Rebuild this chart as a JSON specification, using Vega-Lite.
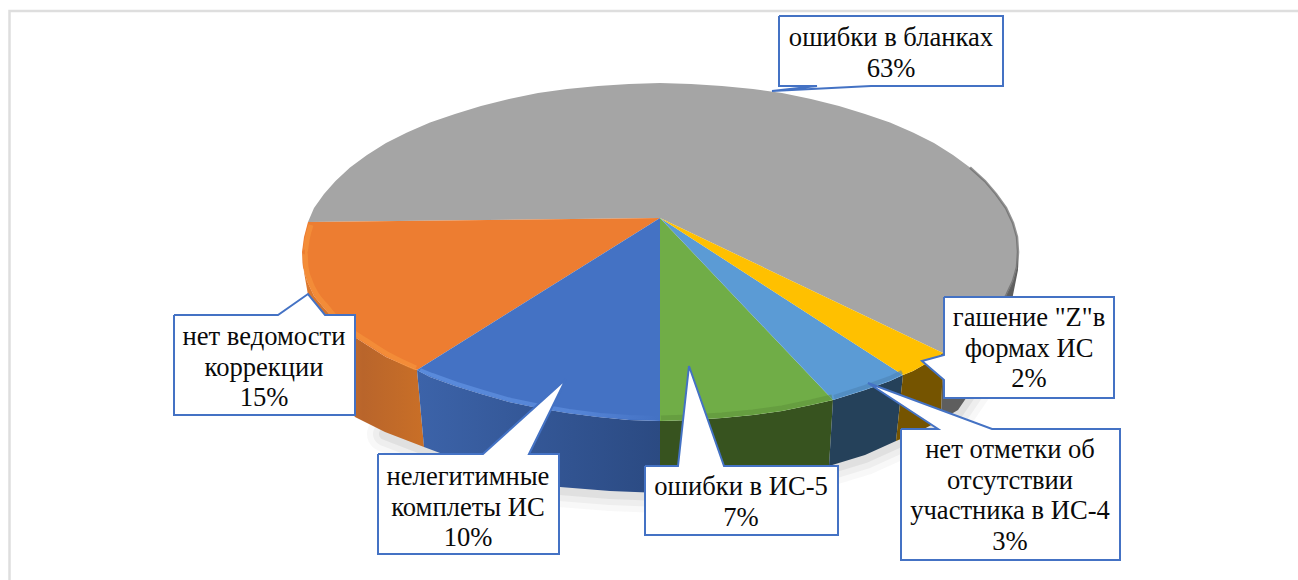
{"$schema":"https://vega.github.io/schema/vega-lite/v6.json","width":1298,"height":580,"padding":0,"autosize":"none","background":"#ffffff","config":{"view":{"stroke":null}},
"datasets":{
"frame":[{"x":9.5,"y":580},{"x":9.5,"y":11},{"x":1298,"y":11}],
"shadow":[{"x":385,"y":434},{"x":424,"y":449},{"x":480,"y":470},{"x":520,"y":481},{"x":560,"y":489},{"x":610,"y":493},{"x":660,"y":495},{"x":700,"y":494},{"x":760,"y":487},{"x":800,"y":478},{"x":829,"y":468},{"x":865,"y":457},{"x":896,"y":443},{"x":941,"y":422},{"x":958,"y":412},{"x":975,"y":387},{"x":995,"y":352}],
"shapes":[
{"part":"side_orange","x":302,"y":252},{"part":"side_orange","x":303,"y":267},{"part":"side_orange","x":307,"y":281},{"part":"side_orange","x":314,"y":296},{"part":"side_orange","x":324,"y":308},{"part":"side_orange","x":335.5,"y":321},{"part":"side_orange","x":350,"y":334},{"part":"side_orange","x":367,"y":345},{"part":"side_orange","x":386,"y":357},{"part":"side_orange","x":407,"y":366},{"part":"side_orange","x":417,"y":370},{"part":"side_orange","x":424,"y":447},{"part":"side_orange","x":385,"y":432},{"part":"side_orange","x":355,"y":417},{"part":"side_orange","x":335,"y":390},{"part":"side_orange","x":318,"y":340},{"part":"side_orange","x":308,"y":295},{"part":"side_orange","x":304,"y":272},
{"part":"side_blue","x":417,"y":370},{"part":"side_blue","x":430,"y":377},{"part":"side_blue","x":455,"y":386},{"part":"side_blue","x":481,"y":394},{"part":"side_blue","x":509,"y":402},{"part":"side_blue","x":538,"y":408},{"part":"side_blue","x":567,"y":413},{"part":"side_blue","x":598,"y":417},{"part":"side_blue","x":629,"y":420},{"part":"side_blue","x":660,"y":421},{"part":"side_blue","x":660,"y":493},{"part":"side_blue","x":610,"y":491},{"part":"side_blue","x":560,"y":487},{"part":"side_blue","x":520,"y":479},{"part":"side_blue","x":480,"y":468},{"part":"side_blue","x":424,"y":447},
{"part":"side_green","x":660,"y":421},{"part":"side_green","x":691,"y":420},{"part":"side_green","x":722,"y":418},{"part":"side_green","x":753,"y":415},{"part":"side_green","x":782,"y":411},{"part":"side_green","x":811,"y":405},{"part":"side_green","x":833,"y":400},{"part":"side_green","x":829,"y":466},{"part":"side_green","x":800,"y":476},{"part":"side_green","x":760,"y":485},{"part":"side_green","x":700,"y":492},{"part":"side_green","x":660,"y":493},
{"part":"side_lightblue","x":833,"y":400},{"part":"side_lightblue","x":865,"y":390},{"part":"side_lightblue","x":890,"y":381},{"part":"side_lightblue","x":903,"y":375},{"part":"side_lightblue","x":896,"y":441},{"part":"side_lightblue","x":865,"y":455},{"part":"side_lightblue","x":829,"y":466},
{"part":"side_yellow","x":903,"y":375},{"part":"side_yellow","x":913,"y":371},{"part":"side_yellow","x":934,"y":359},{"part":"side_yellow","x":943,"y":353},{"part":"side_yellow","x":941,"y":420},{"part":"side_yellow","x":920,"y":431},{"part":"side_yellow","x":896,"y":441},
{"part":"side_gray","x":943,"y":353},{"part":"side_gray","x":953,"y":346},{"part":"side_gray","x":970,"y":337},{"part":"side_gray","x":985,"y":323},{"part":"side_gray","x":996,"y":310},{"part":"side_gray","x":1006,"y":296},{"part":"side_gray","x":1013,"y":281},{"part":"side_gray","x":1017,"y":267},{"part":"side_gray","x":1018,"y":252},{"part":"side_gray","x":1018,"y":270},{"part":"side_gray","x":1010,"y":310},{"part":"side_gray","x":995,"y":350},{"part":"side_gray","x":975,"y":385},{"part":"side_gray","x":958,"y":410},{"part":"side_gray","x":941,"y":420},
{"part":"top_gray","x":660,"y":218},{"part":"top_gray","x":943,"y":353},{"part":"top_gray","x":953,"y":346},{"part":"top_gray","x":970,"y":336},{"part":"top_gray","x":985,"y":323},{"part":"top_gray","x":996,"y":310},{"part":"top_gray","x":1006,"y":296},{"part":"top_gray","x":1013,"y":281},{"part":"top_gray","x":1017,"y":267},{"part":"top_gray","x":1018,"y":252},{"part":"top_gray","x":1017,"y":237},{"part":"top_gray","x":1013,"y":223},{"part":"top_gray","x":1006,"y":208},{"part":"top_gray","x":996,"y":194},{"part":"top_gray","x":985,"y":181},{"part":"top_gray","x":970,"y":167.5},{"part":"top_gray","x":953,"y":155},{"part":"top_gray","x":934,"y":143},{"part":"top_gray","x":913,"y":132.5},{"part":"top_gray","x":890,"y":122.5},{"part":"top_gray","x":865,"y":114},{"part":"top_gray","x":839,"y":106},{"part":"top_gray","x":811,"y":99},{"part":"top_gray","x":782,"y":93},{"part":"top_gray","x":753,"y":89},{"part":"top_gray","x":722,"y":86},{"part":"top_gray","x":691,"y":84},{"part":"top_gray","x":660,"y":83},{"part":"top_gray","x":629,"y":84},{"part":"top_gray","x":598,"y":86},{"part":"top_gray","x":567,"y":89},{"part":"top_gray","x":538,"y":93},{"part":"top_gray","x":509,"y":99},{"part":"top_gray","x":481,"y":106},{"part":"top_gray","x":455,"y":114},{"part":"top_gray","x":430,"y":122.5},{"part":"top_gray","x":407,"y":132.5},{"part":"top_gray","x":386,"y":143},{"part":"top_gray","x":367,"y":155},{"part":"top_gray","x":350,"y":167.5},{"part":"top_gray","x":335.5,"y":181},{"part":"top_gray","x":324,"y":194},{"part":"top_gray","x":314,"y":208},{"part":"top_gray","x":308,"y":222},
{"part":"top_orange","x":660,"y":218},{"part":"top_orange","x":308,"y":222},{"part":"top_orange","x":304,"y":237},{"part":"top_orange","x":302,"y":252},{"part":"top_orange","x":303,"y":267},{"part":"top_orange","x":307,"y":281},{"part":"top_orange","x":314,"y":296},{"part":"top_orange","x":324,"y":308},{"part":"top_orange","x":335.5,"y":321},{"part":"top_orange","x":350,"y":334},{"part":"top_orange","x":367,"y":345},{"part":"top_orange","x":386,"y":357},{"part":"top_orange","x":407,"y":366},{"part":"top_orange","x":417,"y":370},
{"part":"top_blue","x":660,"y":218},{"part":"top_blue","x":417,"y":370},{"part":"top_blue","x":430,"y":377},{"part":"top_blue","x":455,"y":386},{"part":"top_blue","x":481,"y":394},{"part":"top_blue","x":509,"y":402},{"part":"top_blue","x":538,"y":408},{"part":"top_blue","x":567,"y":413},{"part":"top_blue","x":598,"y":417},{"part":"top_blue","x":629,"y":420},{"part":"top_blue","x":660,"y":421},
{"part":"top_green","x":660,"y":218},{"part":"top_green","x":660,"y":421},{"part":"top_green","x":691,"y":420},{"part":"top_green","x":722,"y":418},{"part":"top_green","x":753,"y":415},{"part":"top_green","x":782,"y":411},{"part":"top_green","x":811,"y":405},{"part":"top_green","x":833,"y":400},
{"part":"top_lightblue","x":660,"y":218},{"part":"top_lightblue","x":833,"y":400},{"part":"top_lightblue","x":865,"y":390},{"part":"top_lightblue","x":890,"y":381},{"part":"top_lightblue","x":903,"y":375},
{"part":"top_yellow","x":660,"y":218},{"part":"top_yellow","x":903,"y":375},{"part":"top_yellow","x":913,"y":371},{"part":"top_yellow","x":934,"y":359},{"part":"top_yellow","x":943,"y":353},
{"part":"box_1","x":779,"y":16},{"part":"box_1","x":1003,"y":16},{"part":"box_1","x":1003,"y":86},{"part":"box_1","x":871,"y":86},{"part":"box_1","x":772,"y":91},{"part":"box_1","x":817,"y":86},{"part":"box_1","x":779,"y":86},{"part":"box_1","x":779,"y":16},
{"part":"box_2","x":174,"y":315},{"part":"box_2","x":278,"y":315},{"part":"box_2","x":308,"y":294},{"part":"box_2","x":325,"y":315},{"part":"box_2","x":355,"y":315},{"part":"box_2","x":355,"y":415},{"part":"box_2","x":174,"y":415},{"part":"box_2","x":174,"y":315},
{"part":"box_3","x":378,"y":454},{"part":"box_3","x":483,"y":454},{"part":"box_3","x":566,"y":379},{"part":"box_3","x":529,"y":454},{"part":"box_3","x":559,"y":454},{"part":"box_3","x":559,"y":554},{"part":"box_3","x":378,"y":554},{"part":"box_3","x":378,"y":454},
{"part":"box_4","x":645,"y":466},{"part":"box_4","x":678,"y":466},{"part":"box_4","x":689,"y":366},{"part":"box_4","x":724,"y":466},{"part":"box_4","x":838,"y":466},{"part":"box_4","x":838,"y":535},{"part":"box_4","x":645,"y":535},{"part":"box_4","x":645,"y":466},
{"part":"box_5","x":901,"y":429},{"part":"box_5","x":938,"y":429},{"part":"box_5","x":868,"y":383},{"part":"box_5","x":992,"y":429},{"part":"box_5","x":1120,"y":429},{"part":"box_5","x":1120,"y":560},{"part":"box_5","x":901,"y":560},{"part":"box_5","x":901,"y":429},
{"part":"box_6","x":944,"y":297},{"part":"box_6","x":1114,"y":297},{"part":"box_6","x":1114,"y":398},{"part":"box_6","x":944,"y":398},{"part":"box_6","x":944,"y":380},{"part":"box_6","x":922,"y":361},{"part":"box_6","x":944,"y":355},{"part":"box_6","x":944,"y":297}
],
"bevels":[
{"part":"orange","x":311,"y":225},{"part":"orange","x":307,"y":240},{"part":"orange","x":305,"y":252},{"part":"orange","x":306,"y":267},{"part":"orange","x":310,"y":281},{"part":"orange","x":317,"y":295},{"part":"orange","x":327,"y":307},{"part":"orange","x":338,"y":320},{"part":"orange","x":353,"y":332},{"part":"orange","x":370,"y":343},{"part":"orange","x":389,"y":355},{"part":"orange","x":416,"y":368},
{"part":"blue","x":420,"y":370},{"part":"blue","x":432,"y":375},{"part":"blue","x":457,"y":384},{"part":"blue","x":483,"y":392},{"part":"blue","x":511,"y":400},{"part":"blue","x":540,"y":406},{"part":"blue","x":569,"y":411},{"part":"blue","x":600,"y":415},{"part":"blue","x":629,"y":417},{"part":"blue","x":658,"y":418},
{"part":"green","x":661,"y":418},{"part":"green","x":691,"y":417},{"part":"green","x":722,"y":415},{"part":"green","x":753,"y":412},{"part":"green","x":782,"y":408},{"part":"green","x":811,"y":402},{"part":"green","x":832,"y":397},
{"part":"lightblue","x":834,"y":397},{"part":"lightblue","x":865,"y":387},{"part":"lightblue","x":890,"y":378},{"part":"lightblue","x":902,"y":372},
{"part":"gray","x":970,"y":167.5},{"part":"gray","x":985,"y":181},{"part":"gray","x":996,"y":194},{"part":"gray","x":1006,"y":208},{"part":"gray","x":1013,"y":223},{"part":"gray","x":1017,"y":237},{"part":"gray","x":1018,"y":252},{"part":"gray","x":1017,"y":267},{"part":"gray","x":1013,"y":281},{"part":"gray","x":1006,"y":296},{"part":"gray","x":996,"y":310},{"part":"gray","x":985,"y":323},{"part":"gray","x":970,"y":336}
],
"labels":[
{"category":"ошибки в бланках","share":63,"x":891,"y":38,"text":"ошибки в бланках\n63%"},
{"category":"нет ведомости коррекции","share":15,"x":264,"y":337,"text":"нет ведомости\nкоррекции\n15%"},
{"category":"нелегитимные комплеты ИС","share":10,"x":468,"y":477,"text":"нелегитимные\nкомплеты ИС\n10%"},
{"category":"ошибки в ИС-5","share":7,"x":741,"y":487,"text":"ошибки в ИС-5\n7%"},
{"category":"нет отметки об отсутствии участника в ИС-4","share":3,"x":1010,"y":450,"text":"нет отметки об\nотсутствии\nучастника в ИС-4\n3%"},
{"category":"гашение \"Z\"в формах ИС","share":2,"x":1029,"y":318,"text":"гашение \"Z\"в\nформах ИС\n2%"}
]},
"encoding":{"x":{"field":"x","type":"quantitative","axis":null,"scale":{"domain":[0,1298],"nice":false,"zero":false}},"y":{"field":"y","type":"quantitative","axis":null,"scale":{"domain":[580,0],"nice":false,"zero":false}}},
"layer":[
{"data":{"name":"frame"},"mark":{"type":"line","stroke":"#dedede","strokeWidth":2.5},"encoding":{"order":{"value":null}}},
{"data":{"name":"shadow"},"mark":{"type":"line","stroke":"#555555","strokeWidth":36,"opacity":0.04,"strokeCap":"round","strokeJoin":"round"},"encoding":{"order":{"value":null}}},
{"data":{"name":"shadow"},"mark":{"type":"line","stroke":"#555555","strokeWidth":24,"opacity":0.06,"strokeCap":"round","strokeJoin":"round"},"encoding":{"order":{"value":null}}},
{"data":{"name":"shadow"},"mark":{"type":"line","stroke":"#555555","strokeWidth":12,"opacity":0.09,"strokeCap":"round","strokeJoin":"round"},"encoding":{"order":{"value":null}}},
{"data":{"name":"shapes"},"transform":[{"filter":"datum.part==='side_orange'"}],"mark":{"type":"line","strokeWidth":0,"fill":{"gradient":"linear","x1":0,"y1":0,"x2":1,"y2":0,"stops":[{"offset":0,"color":"#e07a2e"},{"offset":0.5,"color":"#b9652b"},{"offset":1,"color":"#c96f27"}]}},"encoding":{"order":{"value":null}}},
{"data":{"name":"shapes"},"transform":[{"filter":"datum.part==='side_blue'"}],"mark":{"type":"line","strokeWidth":0,"fill":{"gradient":"linear","x1":0,"y1":0,"x2":1,"y2":0,"stops":[{"offset":0,"color":"#3c63a9"},{"offset":1,"color":"#2b4a82"}]}},"encoding":{"order":{"value":null}}},
{"data":{"name":"shapes"},"transform":[{"filter":"datum.part==='side_green'"}],"mark":{"type":"line","strokeWidth":0,"fill":"#37531f"},"encoding":{"order":{"value":null}}},
{"data":{"name":"shapes"},"transform":[{"filter":"datum.part==='side_lightblue'"}],"mark":{"type":"line","strokeWidth":0,"fill":"#25415a"},"encoding":{"order":{"value":null}}},
{"data":{"name":"shapes"},"transform":[{"filter":"datum.part==='side_yellow'"}],"mark":{"type":"line","strokeWidth":0,"fill":"#755400"},"encoding":{"order":{"value":null}}},
{"data":{"name":"shapes"},"transform":[{"filter":"datum.part==='side_gray'"}],"mark":{"type":"line","strokeWidth":0,"fill":"#5e5e5e"},"encoding":{"order":{"value":null}}},
{"data":{"name":"shapes"},"transform":[{"filter":"datum.part==='top_gray'"}],"mark":{"type":"line","strokeWidth":0,"fill":"#a5a5a5"},"encoding":{"order":{"value":null}}},
{"data":{"name":"shapes"},"transform":[{"filter":"datum.part==='top_orange'"}],"mark":{"type":"line","strokeWidth":0,"fill":"#ed7d31"},"encoding":{"order":{"value":null}}},
{"data":{"name":"shapes"},"transform":[{"filter":"datum.part==='top_blue'"}],"mark":{"type":"line","strokeWidth":0,"fill":"#4472c4"},"encoding":{"order":{"value":null}}},
{"data":{"name":"shapes"},"transform":[{"filter":"datum.part==='top_green'"}],"mark":{"type":"line","strokeWidth":0,"fill":"#70ad47"},"encoding":{"order":{"value":null}}},
{"data":{"name":"shapes"},"transform":[{"filter":"datum.part==='top_lightblue'"}],"mark":{"type":"line","strokeWidth":0,"fill":"#5b9bd5"},"encoding":{"order":{"value":null}}},
{"data":{"name":"shapes"},"transform":[{"filter":"datum.part==='top_yellow'"}],"mark":{"type":"line","strokeWidth":0,"fill":"#ffc000"},"encoding":{"order":{"value":null}}},
{"data":{"name":"bevels"},"transform":[{"filter":"datum.part==='orange'"}],"mark":{"type":"line","stroke":"#f5933c","strokeWidth":5,"opacity":0.7,"interpolate":"monotone"},"encoding":{"order":{"value":null}}},
{"data":{"name":"bevels"},"transform":[{"filter":"datum.part==='blue'"}],"mark":{"type":"line","strokeWidth":4,"opacity":0.75,"stroke":{"gradient":"linear","x1":0,"y1":0,"x2":1,"y2":0,"stops":[{"offset":0,"color":"#6193e3"},{"offset":0.65,"color":"#5b8bdc"},{"offset":1,"color":"#4472c4"}]}},"encoding":{"order":{"value":null}}},
{"data":{"name":"bevels"},"transform":[{"filter":"datum.part==='green'"}],"mark":{"type":"line","stroke":"#5c8f3a","strokeWidth":5,"opacity":0.5},"encoding":{"order":{"value":null}}},
{"data":{"name":"bevels"},"transform":[{"filter":"datum.part==='lightblue'"}],"mark":{"type":"line","stroke":"#4c84b6","strokeWidth":4,"opacity":0.6},"encoding":{"order":{"value":null}}},
{"data":{"name":"bevels"},"transform":[{"filter":"datum.part==='gray'"}],"mark":{"type":"line","stroke":"#666666","strokeWidth":2.5,"opacity":0.7},"encoding":{"order":{"value":null}}},
{"data":{"name":"shapes"},"transform":[{"filter":"indexof(datum.part,'box_')===0"}],"mark":{"type":"line","stroke":"#4472c4","strokeWidth":2,"fill":"#ffffff","strokeJoin":"miter"},"encoding":{"detail":{"field":"part"},"order":{"value":null}}},
{"data":{"name":"labels"},"mark":{"type":"text","font":"Liberation Serif","fontSize":26.6,"lineBreak":"\n","lineHeight":30.7,"align":"center","baseline":"middle","fill":"#0a0a0a"},"encoding":{"text":{"field":"text"}}}
]}
